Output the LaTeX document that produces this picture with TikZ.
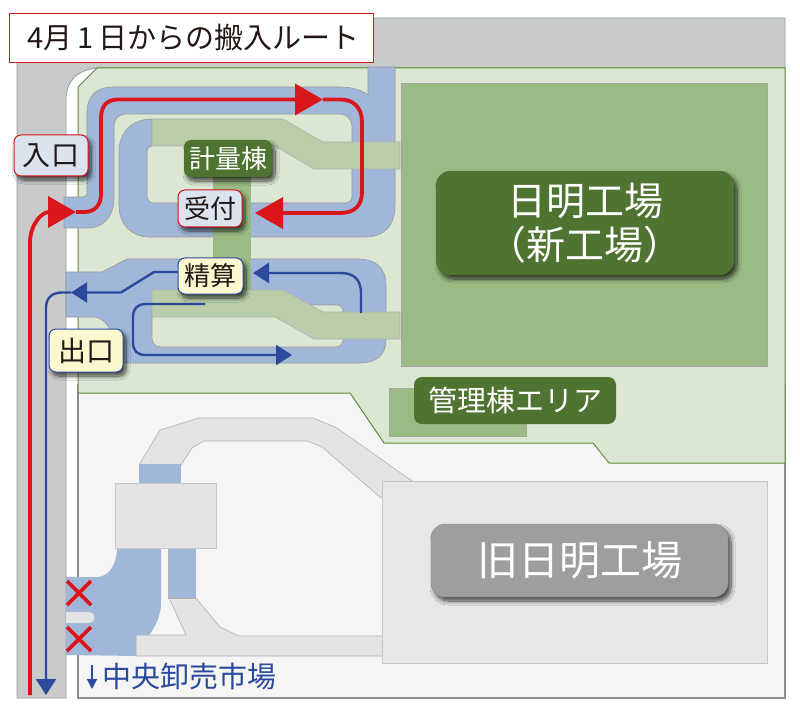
\documentclass[tikz,border=0pt]{standalone}
\usepackage{fontspec}
\setmainfont{Noto Sans CJK JP}
\usetikzlibrary{arrows.meta,shadows.blur,calc}
\definecolor{roadgray}{HTML}{C9CBCB}
\definecolor{roadedge}{HTML}{8E9EAA}
\definecolor{sitegreen}{HTML}{DCE7D3}
\definecolor{siteedge}{HTML}{5F8A3C}
\definecolor{blockgreen}{HTML}{9ABB84}
\definecolor{bandgreen}{HTML}{B9CDA9}
\definecolor{darkgreen}{HTML}{4F7331}
\definecolor{roadblue}{HTML}{A0B7D9}
\definecolor{lotgray}{HTML}{F5F5F5}
\definecolor{palegray}{HTML}{E4E4E4}
\definecolor{labelgray}{HTML}{9E9E9E}
\definecolor{routered}{HTML}{D9161C}
\definecolor{routeblue}{HTML}{2B4A9B}
\definecolor{inkdark}{HTML}{231815}
\definecolor{tagblue}{HTML}{DAE3EE}
\definecolor{tagyellow}{HTML}{FBF7CF}
\tikzset{
  x=1pt,y=-1pt,
  edgeline/.style={draw=black!40,line width=.6pt},
  bluearea/.style={fill=roadblue,edgeline},
  grayarea/.style={fill=palegray,draw=black!30,line width=.6pt},
  greenband/.style={fill=bandgreen,draw=black!30,line width=.6pt},
  blockarea/.style={fill=blockgreen,draw=black!35,line width=.6pt},
  tagplain/.style={rounded corners=7pt,inner sep=0pt,align=center},
  tagbase/.style={tagplain,
    blur shadow={shadow xshift=3pt,shadow yshift=-4pt,shadow blur steps=10,shadow opacity=70,shadow blur radius=4pt}},
  redtag/.style={tagbase,fill=tagblue,draw=routered,line width=1pt,text=inkdark},
  yellowtag/.style={tagbase,fill=tagyellow,draw=routeblue,line width=1pt,text=inkdark},
  greentag/.style={tagbase,fill=darkgreen,text=white},
  redroute/.style={draw=routered,line width=3.8pt},
  blueroute/.style={draw=routeblue,line width=2.4pt},
  redtip/.style={-{Triangle[length=28pt,width=31pt]},shorten >=0pt},
  bluetip/.style={-{Triangle[length=16pt,width=20pt]}},
  crossline/.style={draw=routered,line width=3.8pt},
}
\newcommand{\fs}[1]{\fontsize{#1}{#1}\selectfont}
\begin{document}
\begin{tikzpicture}
\useasboundingbox (0,0) rectangle (800,711);
\fill[white] (0,0) rectangle (800,711);
% road
\path[fill=roadgray,draw=roadedge,line width=.8pt] (17,18) -- (785,18) -- (785,68) -- (97,68)
  .. controls (76,70) and (66,82) .. (66,100) -- (66,698) -- (17,698) -- cycle;
% lower lot
\path[fill=lotgray,draw=black!45,line width=1.2pt] (78,385) rectangle (785,698);
% site
\path[fill=sitegreen,draw=siteedge,line width=1pt] (78,87) -- (97,68) -- (785,68) -- (785,463)
  -- (609,463) -- (593,443) -- (384,443) -- (350,393) -- (78,393) -- cycle;
% factory blocks
\path[blockarea] (401,83) rectangle (767,366);
\path[blockarea] (389,388) rectangle (526,436);
% upper ring road
\path[bluearea] (64,197) -- (84,197) -- (87,194) -- (87,112) .. controls (87,96) and (97,87) .. (112,87)
  -- (340,87) .. controls (352,87) and (362,90) .. (368,95) -- (368,67) -- (395,67) -- (395,205)
  .. controls (395,226) and (384,237) .. (365,237) -- (150,237) .. controls (131,237) and (119,224) .. (119,205)
  -- (119,152) .. controls (119,132) and (132,119) .. (152,119) -- (152,146) -- (152,146) .. controls (149,146) and (147,148) .. (147,151)
  -- (147,196) .. controls (147,200) and (150,203) .. (154,203) -- (345,203) .. controls (350,203) and (352,200) .. (352,196)
  -- (352,126) .. controls (352,119) and (346,114) .. (340,114) -- (126,114) .. controls (119,114) and (114,119) .. (114,126)
  -- (114,198) .. controls (114,217) and (103,228) .. (88,228) -- (64,228) -- cycle;
% lower ring road
\path[bluearea] (66,272) -- (102,272) -- (127,259) -- (358,259) .. controls (376,259) and (386,268) .. (386,285)
  -- (386,340) .. controls (386,355) and (376,363) .. (360,363) -- (120,363) -- (110,330)
  .. controls (107,322) and (100,317) .. (92,317) -- (66,317) -- cycle;
\path[fill=sitegreen,edgeline] (152,300) -- (152,338) .. controls (152,344) and (156,347) .. (161,347)
  -- (335,347) .. controls (340,347) and (343,344) .. (343,340) -- (343,311) .. controls (343,307) and (340,305) .. (336,305)
  -- (300,305) -- cycle;
% centre strip
\path[fill=blockgreen] (213,165) rectangle (251,292);
% green bands
\path[greenband] (152,119) -- (283,119) -- (323,142) -- (400,142) -- (400,169) -- (314,169) -- (275,146) -- (152,146) -- cycle;
\path[greenband] (152,290) -- (283,290) -- (323,312) -- (400,312) -- (400,339) -- (314,339) -- (275,317) -- (152,317) -- cycle;
% old-site roads
\path[grayarea] (139,465) -- (160,430) -- (199,418) -- (313,418) -- (337,428) -- (412,481) -- (381,498)
  -- (322,447) -- (307,441) -- (204,441) -- (192,448) -- (181,465) -- cycle;
\path[grayarea] (136,635) -- (186,635) -- (169,598) -- (195,597) -- (220,627) -- (239,636) -- (385,636) -- (385,656) -- (136,656) -- cycle;
\path[fill=roadblue] (139,464) rectangle (181,484);
\path[fill=roadblue,draw=black!30,line width=.4pt] (168,547) rectangle (195,598);
\path[fill=roadblue] (117,547) -- (161,547) -- (161,603) .. controls (161,615) and (156,626) .. (149,635)
  -- (136,635) -- (136,656) -- (66,655) -- (66,577) -- (97,577) .. controls (108,577) and (117,566) .. (117,547) -- cycle;
\path[fill=palegray] (66,612) -- (89,612) arc[start angle=-90,end angle=90,radius=5.5] -- (66,623) -- cycle;
\path[fill=palegray,draw=black!22,line width=.8pt] (115,483) rectangle (216,548);
\path[fill=black!9.5,draw=black!22,line width=.8pt] (382,481) rectangle (767,663);
% crosses
\draw[crossline] (67,581) -- (91,605) (91,581) -- (67,605);
\draw[crossline] (67,627) -- (91,651) (91,627) -- (67,651);
% south note
\coordinate (noteTop) at (92,665);
\coordinate (noteEnd) at (92,689);
\draw[routeblue,line width=1.4pt,-{Triangle[length=10pt,width=10pt]}] (noteTop) -- (noteEnd);
\node[anchor=west,text=routeblue,inner sep=0pt] (note) at (102,676) {\fs{29}中央卸売市場};
% tags
\node[draw=routered,fill=white,line width=.8pt,minimum width=364pt,minimum height=49pt,inner sep=0pt,text=inkdark] (title) at (191,38)
  {\hspace*{5pt}\fs{29}4月\,1\,日からの搬入ルート};
\node[greentag,minimum width=298pt,minimum height=104pt,rounded corners=14pt] (newplant) at (585,223)
  {\fs{39}日明工場\\[6pt]\fs{39}（新工場）};
\node[tagplain,fill=darkgreen,text=white,minimum width=202pt,minimum height=47pt,rounded corners=8pt] (admin) at (515,400.5) {\fs{29}管理棟エリア};
\node[tagbase,fill=labelgray,text=white,draw=black!45,line width=.4pt,minimum width=297pt,minimum height=73pt,rounded corners=14pt] (oldplant) at (579.5,560.5) {\fs{41}旧日明工場};
\node[greentag,minimum width=88pt,minimum height=37pt] (keiryo) at (228,158.5) {\fs{26}計量棟};
\node[redtag,minimum width=74pt,minimum height=41pt] (iriguchi) at (51,155.5) {\fs{28}入口};

% routes
\coordinate (redStart) at (30,695);
\coordinate (redA) at (76,212);
\coordinate (redB) at (323,99.5);
\coordinate (redC) at (255,213);
\draw[redroute,redtip] (redStart) -- (30,243) .. controls (30,224) and (42,212) .. (redA);
\draw[redroute,redtip] (redA) -- (84,212) .. controls (95,212) and (101,205) .. (101,194) -- (101,118)
  .. controls (101,106) and (107,99.5) .. (118,99.5) -- (redB);
\draw[redroute,redtip] (redB) -- (340,99.5) .. controls (354,99.5) and (362,108) .. (362,122) -- (362,192)
  .. controls (362,206) and (354,213) .. (340,213) -- (redC);

\node[redtag,minimum width=64pt,minimum height=37pt] (uketsuke) at (210,208.5) {\fs{26}受付};
\node[yellowtag,minimum width=65pt,minimum height=36pt] (seisan) at (210.5,276) {\fs{26}精算};
\node[yellowtag,minimum width=74pt,minimum height=43pt] (deguchi) at (86,350.5) {\fs{28}出口};

\coordinate (blueA) at (361,313);
\coordinate (blueB) at (253,273);
\coordinate (blueC) at (205,304);
\coordinate (blueD) at (292,355);
\coordinate (blueE) at (71,292.5);
\coordinate (blueF) at (46,695);
\draw[blueroute,bluetip] (blueA) -- (361,293) .. controls (361,280) and (354,273) .. (341,273) -- (blueB);
\draw[blueroute,bluetip] (blueC) -- (146,304) .. controls (137,304) and (133,309) .. (133,317) -- (133,342)
  .. controls (133,351) and (137,355) .. (146,355) -- (blueD);
\draw[blueroute,bluetip] (seisan.west |- 0,272) -- (154,272) -- (121,292.5) -- (blueE);
\draw[blueroute,bluetip] (blueE) -- (62,292.5) .. controls (52,292.5) and (46,298) .. (46,308) -- (blueF);
\end{tikzpicture}
\end{document}
